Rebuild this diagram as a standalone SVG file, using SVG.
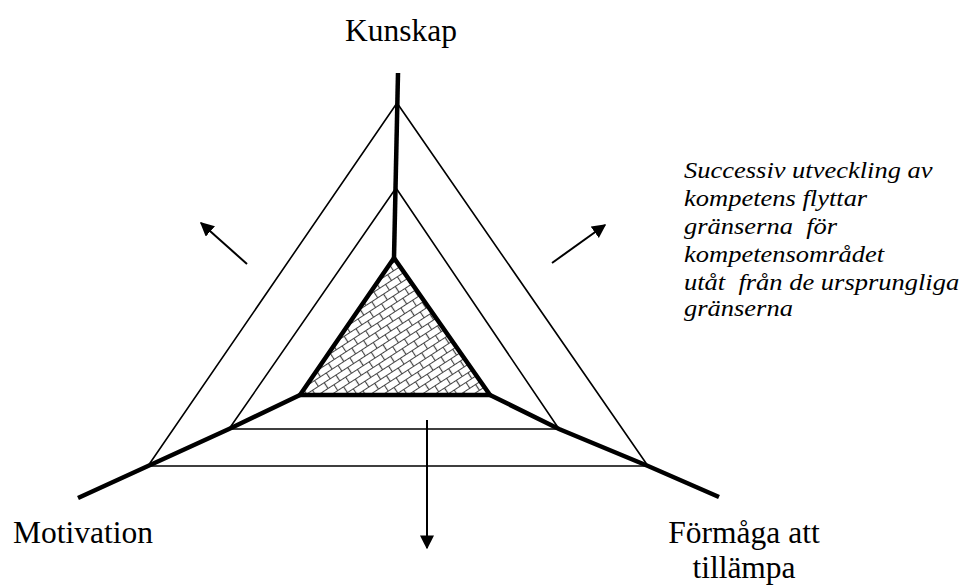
<svg xmlns="http://www.w3.org/2000/svg" width="964" height="588" viewBox="0 0 964 588">
<style>
.thin{fill:none;stroke:#000;stroke-width:1.6;stroke-linejoin:miter}
.thick{fill:none;stroke:#000;stroke-width:4.5;stroke-linejoin:miter;stroke-linecap:butt}
.arrow{stroke:#000;stroke-width:2;fill:none;marker-end:url(#ah)}
.lbl{font-family:"Liberation Serif","Times New Roman",serif;font-size:31.5px;fill:#000}
.note{font-family:"Liberation Serif","Times New Roman",serif;font-style:italic;font-size:26.5px;fill:#000}
</style>
<defs>
<marker id="ah" viewBox="0 0 10 10" refX="9" refY="5" markerWidth="7" markerHeight="7" markerUnits="strokeWidth" orient="auto">
<path d="M0,0 L10,5 L0,10 z" fill="#000"/>
</marker>
<pattern id="brick" width="14" height="14" patternUnits="userSpaceOnUse" patternTransform="rotate(-33)">
<rect width="14" height="14" fill="#fff"/>
<path d="M0,0.5 H14 M0,7.5 H14 M0.5,0.5 V7.5 M7.5,7.5 V14" stroke="#444" stroke-width="1.2" fill="none"/>
</pattern>
</defs>
<g id="outer-triangle"><polygon class="thin" points="397,103 148,466 648,466"/></g>
<g id="middle-triangle"><polygon class="thin" points="396,188 229,429 559,429"/></g>
<g id="inner-triangle"><polygon points="394,258 300,395 490,395" fill="url(#brick)" stroke="#000" stroke-width="4.5"/></g>
<g id="connectors">
<polyline class="thick" points="398,73 394,258"/>
<polyline class="thick" points="300,395 229,429 148,466 78,498"/>
<polyline class="thick" points="490,395 559,429 648,466 719,497"/>
<line class="arrow" x1="247" y1="264" x2="201" y2="223"/>
<line class="arrow" x1="552" y1="263" x2="605" y2="225"/>
<line class="arrow" x1="427" y1="420" x2="427" y2="548"/>
</g>
<g id="label-kunskap"><text class="lbl" x="401" y="41" text-anchor="middle">Kunskap</text></g>
<g id="label-motivation"><text class="lbl" x="13" y="543">Motivation</text></g>
<g id="label-formaga"><text class="lbl" x="744" y="543" text-anchor="middle">Förmåga att</text><text class="lbl" x="744" y="578" text-anchor="middle">tillämpa</text></g>
<g id="note">
<text class="note" transform="translate(684,178) scale(1,0.87)">Successiv utveckling av</text>
<text class="note" transform="translate(684,206) scale(1,0.87)">kompetens flyttar</text>
<text class="note" transform="translate(684,234) scale(1,0.87)" xml:space="preserve">gränserna  för</text>
<text class="note" transform="translate(684,262) scale(1,0.87)">kompetensområdet</text>
<text class="note" transform="translate(684,290) scale(1,0.87)" xml:space="preserve">utåt  från de ursprungliga</text>
<text class="note" transform="translate(684,316) scale(1,0.87)">gränserna</text>
</g>
</svg>
